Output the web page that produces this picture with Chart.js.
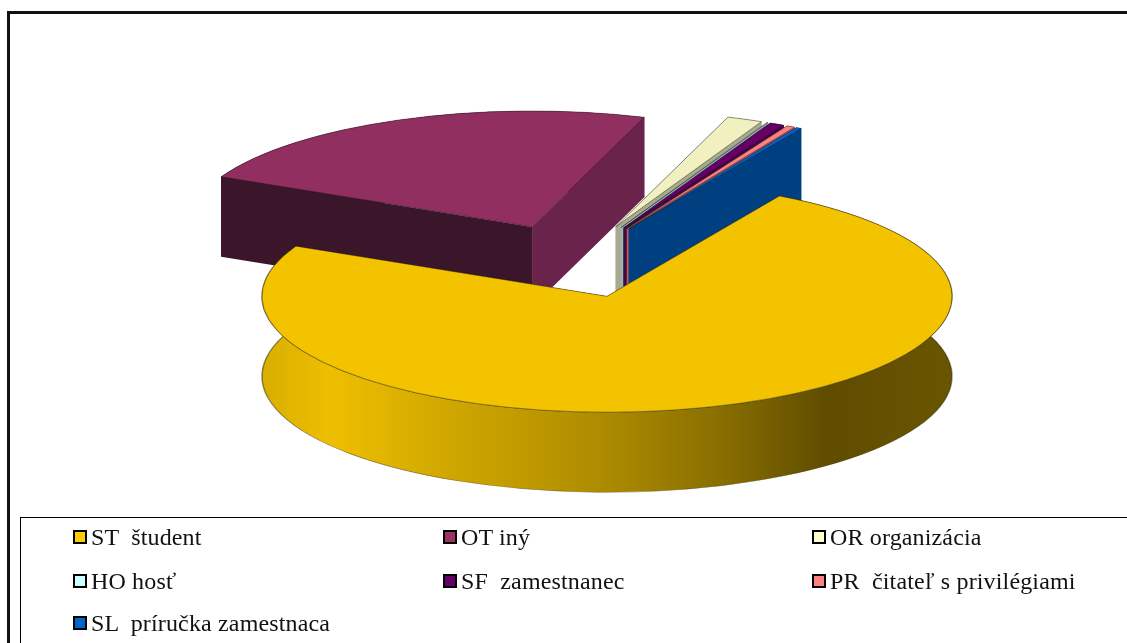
<!DOCTYPE html>
<html>
<head>
<meta charset="utf-8">
<script src="https://cdn.jsdelivr.net/npm/chart.js@4"></script>
<style>
    html, body { margin: 0; padding: 0; background: #fff; overflow: hidden; }
    #wrap { position: relative; width: 1127px; height: 643px; overflow: hidden; }
    #frame { position: absolute; left: 7px; top: 11px; width: 1200px; height: 700px; border: 3px solid #111; border-width: 3px 0 0 3px; }
    #legendBox { position: absolute; left: 20px; top: 517px; width: 1200px; height: 200px; border: 1px solid #000; }
    #myChart { position: absolute; left: 0; top: 0; }
    .item { position: absolute; font: 24px "Liberation Serif", serif; letter-spacing: 0.15px; color: #111; white-space: pre; line-height: 24px; }
    .swatch { position: absolute; left: -18px; top: 5px; width: 10px; height: 10px; border: 2px solid #000; }
</style>
</head>
<body>
<div id="wrap">
    <div id="frame"></div>
    <div id="legendBox"></div>
    <canvas id="myChart" width="1127" height="643"></canvas>
    <div id="legend"></div>
</div>
<script>
const categories = ['ST  študent', 'OT iný', 'OR organizácia', 'HO hosť', 'SF  zamestnanec', 'PR  čitateľ s privilégiami', 'SL  príručka zamestnaca'];
const shares = [73.8, 23.15, 1.67, 0.05, 0.7, 0.39, 0.25];
const topColors = ['#f3c300', '#902f60', '#f0f0c0', '#c8f0f0', '#660066', '#ff8080', '#0066cc'];
const legendColors = ['#ffcc00', '#993366', '#ffffcc', '#ccffff', '#660066', '#ff8080', '#0066cc'];
const startWallColors = ['#6b5500', '#3b1529', '#8f8f78', '#8aa8a8', '#3a003a', '#a85050', '#003a70'];
const endWallColors = ['#6b5500', '#6a244c', '#a9a98f', '#9ab8b8', '#3f0a3f', '#b85a5a', '#004080'];
// back to front, the student slice has to cover the others
const drawOrder = [1, 2, 3, 4, 5, 6, 0];
const rimStops = [[0, '#d8ae00'], [0.1, '#eebf00'], [0.27, '#d0a700'], [0.49, '#ae8c00'], [0.66, '#8a6f00'], [0.82, '#5f4c00'], [1, '#6a5500']];

const squash = 0.336;
const depth = 80;
// the arc's own offset option shrinks small slices, so the pull-out is done here
const explode = 110;

// Walls of one slice, drawn inside the squashed context
function paintWalls(ctx, arc, i) {
    const x = arc.x;
    const y = arc.y;
    const r = arc.outerRadius;
    const d = depth / squash;

    const grad = ctx.createLinearGradient(x - r, 0, x + r, 0);
    rimStops.forEach((s) => grad.addColorStop(s[0], s[1]));
    ctx.beginPath();
    ctx.arc(x, y, r, arc.startAngle, arc.endAngle);
    ctx.arc(x, y + d, r, arc.endAngle, arc.startAngle, true);
    ctx.closePath();
    ctx.fillStyle = i === 0 ? grad : endWallColors[i];
    ctx.fill();
    if (i === 0) {
        ctx.strokeStyle = 'rgba(40, 30, 0, 0.5)';
        ctx.lineWidth = 1.5;
        ctx.stroke();
    }

    function edge(angle, color) {
        ctx.beginPath();
        ctx.moveTo(x, y);
        ctx.lineTo(x + Math.cos(angle) * r, y + Math.sin(angle) * r);
        ctx.lineTo(x + Math.cos(angle) * r, y + Math.sin(angle) * r + d);
        ctx.lineTo(x, y + d);
        ctx.closePath();
        ctx.fillStyle = color;
        ctx.fill();
    }
    edge(arc.startAngle, startWallColors[i]);
    edge(arc.endAngle, endWallColors[i]);
}

const pie3d = {
    id: 'pie3d',
    beforeDatasetDraw(chart, args) {
        const ctx = chart.ctx;
        const arcs = args.meta.data;
        const cy = arcs[0].y;
        ctx.save();
        ctx.translate(0, cy);
        ctx.scale(1, squash);
        ctx.translate(0, -cy);
        drawOrder.forEach((i) => {
            const mid = (arcs[i].startAngle + arcs[i].endAngle) / 2;
            ctx.save();
            ctx.translate(Math.cos(mid) * explode, Math.sin(mid) * explode);
            paintWalls(ctx, arcs[i], i);
            arcs[i].draw(ctx);
            ctx.restore();
        });
        ctx.restore();
        return false;
    }
};

var ctx = document.getElementById('myChart').getContext('2d');
var myChart = new Chart(ctx, {
    type: 'pie',
    data: {
        labels: categories,
        datasets: [{
            data: shares,
            backgroundColor: topColors,
            borderColor: 'rgba(20, 20, 20, 0.8)',
            borderWidth: 0.8,
            borderJoinStyle: 'bevel',
            radius: 345
        }]
    },
    options: {
        responsive: false,
        animation: false,
        rotation: 30,
        layout: { padding: { left: 22, bottom: 121 } },
        events: [],
        plugins: { legend: { display: false }, tooltip: { enabled: false } }
    },
    plugins: [pie3d]
});

// Legend, three columns like the original
const legendColumns = [91, 461, 830];
const legendRows = [525, 569, 611];
var temp = "";
categories.forEach((name, i) => {
    const left = legendColumns[i % 3];
    const top = legendRows[Math.floor(i / 3)];
    temp += '<div class="item" style="left:' + left + 'px;top:' + top + 'px">';
    temp += '<span class="swatch" style="background:' + legendColors[i] + '"></span>' + name + '</div>';
});
document.getElementById('legend').innerHTML = temp;
</script>
</body>
</html>
